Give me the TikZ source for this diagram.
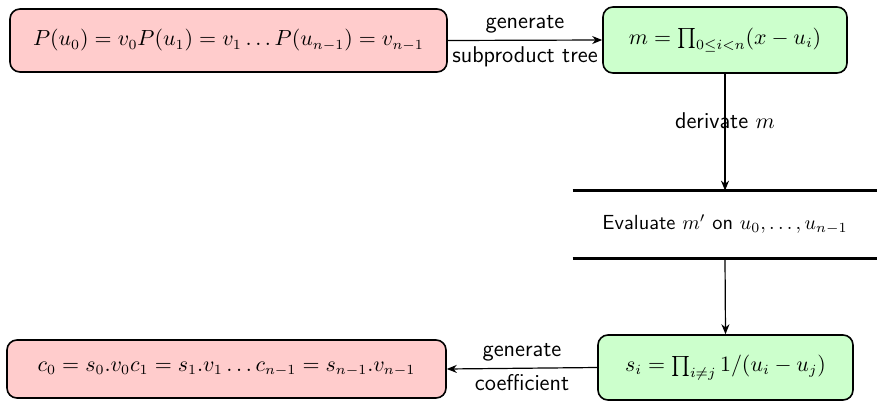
\documentclass[tikz,border=0pt]{standalone}
\usetikzlibrary{arrows.meta}
\begin{document}
\begin{tikzpicture}[x=0.5pt,y=-0.5pt,
  boxfont/.style={font=\fontsize{10.6}{12.7}\selectfont},
  pinkbox/.style={draw, thick, rounded corners=5pt, fill=red!20, inner sep=0pt, anchor=center, boxfont},
  greenbox/.style={draw, thick, rounded corners=5pt, fill=green!20, inner sep=0pt, anchor=center, boxfont},
  conn/.style={semithick, -{Stealth[length=5pt,width=4pt]}},
  lbl/.style={font=\fontsize{11.4}{13.7}\selectfont\sffamily, inner sep=1pt}]
\useasboundingbox (0,0) rectangle (878,402);
\node[pinkbox, minimum width=218.5pt, minimum height=31.5pt] (p) at (228.5,40.5)
  {$P(u_0) = v_0P(u_1) = v_1\dots P(u_{n-1}) = v_{n-1}$};
\node[greenbox, minimum width=122pt, minimum height=33pt] (m) at (725,40)
  {$m = \prod_{0\leq i<n}(x-u_i)$};
\node[minimum width=152pt, minimum height=33.5pt, inner sep=0pt, font=\fontsize{10.2}{12.2}\selectfont\sffamily] (ev) at (725,224.5)
  {Evaluate $m'$ on $u_0,\dots,u_{n-1}$};
\draw[line width=1.4pt] (ev.north west) -- (ev.north east);
\draw[line width=1.4pt] (ev.south west) -- (ev.south east);
\node[greenbox, minimum width=127.5pt, minimum height=32.5pt] (s) at (725.5,367.5)
  {$s_i = \prod_{i\neq j} 1/(u_i-u_j)$};
\node[pinkbox, minimum width=219.5pt, minimum height=29pt] (c) at (226.5,369)
  {$c_0 = s_0.v_0c_1 = s_1.v_1\dots c_{n-1} = s_{n-1}.v_{n-1}$};
\draw[conn] (p.east) -- node[lbl, above=2pt] {generate} node[lbl, below=2pt] {subproduct tree} (m.west);
\draw[conn] (m.south) -- node[lbl, pos=0.4] {derivate $m$} (ev.north);
\draw[conn] (ev.south) -- (s.north);
\draw[conn] (s.west) -- node[lbl, above=2pt] {generate} node[lbl, below=2pt] {coefficient} (c.east);
\end{tikzpicture}
\end{document}
